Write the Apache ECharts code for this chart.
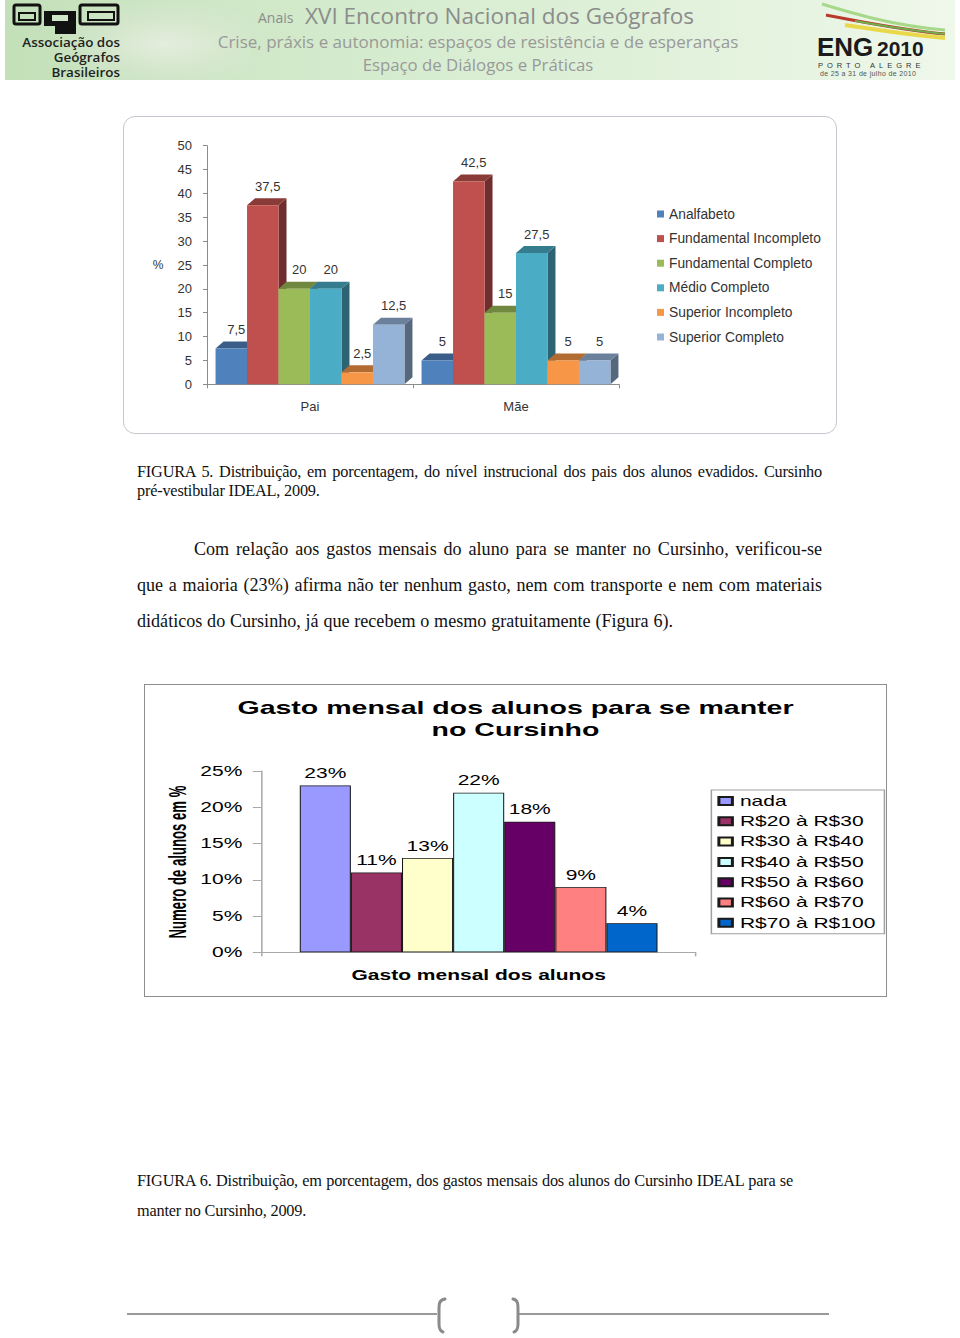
<!DOCTYPE html>
<html>
<head>
<meta charset="utf-8">
<script src="https://cdn.jsdelivr.net/npm/echarts/dist/echarts.min.js"></script>
<style>
html,body{margin:0;padding:0;background:#fff;}
body{width:960px;height:1338px;position:relative;overflow:hidden;font-family:"Liberation Serif","Times New Roman",serif;color:#111;}
.ln{position:absolute;white-space:nowrap;height:22px;line-height:22px;}
.j{text-align:justify;text-align-last:justify;}
.cap{font-size:16.3px;letter-spacing:-0.2px;}
.par{font-size:18.1px;}
.ban{position:absolute;white-space:nowrap;font-family:"Open Sans",sans-serif;line-height:20px;height:20px;}
.eng{position:absolute;white-space:nowrap;font-family:"Liberation Sans",Arial,sans-serif;}
</style>
</head>
<body>

<!-- header banner -->
<div style="position:absolute;left:5px;top:0;width:950px;height:80px;background:linear-gradient(90deg,#c3e0b9 0%,#cfe7c6 22%,#d9eed3 50%,#e3f2dd 75%,#eff8eb 100%);"></div>
<div style="position:absolute;left:60px;top:0;width:190px;height:80px;background:radial-gradient(ellipse at 55% 55%,rgba(235,240,230,0.75) 0%,rgba(220,232,214,0.45) 45%,rgba(200,225,192,0) 75%);"></div>
<svg style="position:absolute;left:0;top:0" width="960" height="80">
  <g fill="none" stroke="#111" stroke-width="3">
    <rect x="14" y="5" width="26" height="19" rx="2"/>
    <rect x="19" y="13" width="16" height="7" stroke-width="2"/>
    <rect x="80" y="5" width="38" height="19" rx="2"/>
    <rect x="88" y="12" width="26" height="8" stroke-width="2"/>
  </g>
  <rect x="44" y="11" width="32" height="15" fill="#111"/>
  <rect x="55" y="25" width="21" height="9" fill="#111"/>
  <rect x="52" y="15" width="16" height="6" fill="#cfe7c6"/>
  <path d="M822 4 C855 14 895 26 945 30" stroke="#a8d88a" stroke-width="3" fill="none"/>
  <path d="M826 15 C862 22 902 30 945 34" stroke="#b83a2a" stroke-width="3" fill="none"/>
  <path d="M845 25 C878 30 912 35 945 38" stroke="#e8d84a" stroke-width="4" fill="none"/>
  <path d="M855 21 C884 26 916 31 945 34" stroke="#6fae4c" stroke-width="2" fill="none"/>
</svg>
<div style="position:absolute;left:10px;top:34.5px;width:110px;text-align:right;white-space:nowrap;font-family:'Open Sans',sans-serif;font-size:12px;font-weight:600;color:#222;line-height:15px;transform:scaleX(1.12);transform-origin:100% 0;">Associação dos<br>Geógrafos<br>Brasileiros</div>
<div class="ban" style="left:258px;top:8px;font-size:14px;color:#8c8c8c;">Anais</div>
<div class="ban" style="left:305px;top:2px;font-size:22.5px;color:#8c8c8c;height:28px;line-height:28px;">XVI Encontro Nacional dos Geógrafos</div>
<div class="ban" style="left:178px;top:31px;width:600px;text-align:center;font-size:17px;color:#999;height:22px;line-height:22px;">Crise, práxis e autonomia: espaços de resistência e de esperanças</div>
<div class="ban" style="left:278px;top:54px;width:400px;text-align:center;font-size:16.8px;color:#999;height:22px;line-height:22px;">Espaço de Diálogos e Práticas</div>
<div class="eng" style="left:817px;top:32.5px;font-size:26px;line-height:29px;height:29px;font-weight:700;color:#1b1b1b;">ENG</div>
<div class="eng" style="left:877px;top:37px;font-size:21px;line-height:23.4px;height:23.4px;font-weight:700;color:#1b1b1b;">2010</div>
<div class="eng" style="left:818px;top:61.8px;font-size:7.5px;line-height:8.3px;height:8.3px;letter-spacing:4px;color:#333;">PORTO ALEGRE</div>
<div class="eng" style="left:820px;top:70.3px;font-size:7px;line-height:7.8px;height:7.8px;letter-spacing:0.35px;color:#555;">de 25 a 31 de julho de 2010</div>

<!-- Figure 5 -->
<div style="position:absolute;left:123px;top:116px;width:714px;height:318px;border:1.5px solid #c6c6ce;border-radius:12px;box-sizing:border-box;"></div>
<div id="c1" style="position:absolute;left:123px;top:116px;width:714px;height:318px;"></div>

<div class="ln cap j" style="left:137px;top:461px;width:685px;">FIGURA 5. Distribuição, em porcentagem, do nível instrucional dos pais dos alunos evadidos. Cursinho</div>
<div class="ln cap" style="left:137px;top:480px;">pré-vestibular IDEAL, 2009.</div>

<div class="ln par j" style="left:194px;top:538px;width:628px;">Com relação aos gastos mensais do aluno para se manter no Cursinho, verificou-se</div>
<div class="ln par j" style="left:137px;top:574px;width:685px;">que a maioria (23%) afirma não ter nenhum gasto, nem com transporte e nem com materiais</div>
<div class="ln par j" style="left:137px;top:610px;width:536px;">didáticos do Cursinho, já que recebem o mesmo gratuitamente (Figura 6).</div>

<!-- Figure 6 -->
<div style="position:absolute;left:144px;top:684px;width:743px;height:313px;border:1.5px solid #8e8e8e;box-sizing:border-box;"></div>
<div id="c2" style="position:absolute;left:144px;top:684px;width:495px;height:313px;transform:scaleX(1.501);transform-origin:0 0;"></div>

<div class="ln cap j" style="left:137px;top:1170px;width:656px;">FIGURA 6. Distribuição, em porcentagem, dos gastos mensais dos alunos do Cursinho IDEAL para se</div>
<div class="ln cap" style="left:137px;top:1200px;">manter no Cursinho, 2009.</div>

<!-- footer -->
<svg style="position:absolute;left:0;top:1290px" width="960" height="48">
  <line x1="127" y1="24" x2="437" y2="24" stroke="#9a9a9a" stroke-width="2"/>
  <line x1="519" y1="24" x2="829" y2="24" stroke="#9a9a9a" stroke-width="2"/>
  <path d="M445 9 C439 10 439 14 439 20 L439 34 C439 39 440 41 443 42" stroke="#8a8a8a" stroke-width="3" fill="none" stroke-linecap="round"/>
  <path d="M513 9 C518 10 518 14 518 20 L518 34 C518 39 517 41 514 42" stroke="#8a8a8a" stroke-width="3" fill="none" stroke-linecap="round"/>
</svg>

<script>
// ---------- Figure 5 data ----------
const parentGroups = ['Pai', 'Mãe'];
const levelNames = ['Analfabeto', 'Fundamental Incompleto', 'Fundamental Completo', 'Médio Completo', 'Superior Incompleto', 'Superior Completo'];
const analfabeto = [7.5, 5];
const fundIncompleto = [37.5, 42.5];
const fundCompleto = [20, 15];
const medioCompleto = [20, 27.5];
const supIncompleto = [2.5, 5];
const supCompleto = [12.5, 5];
const pctMin = 0, pctMax = 50, pctStep = 5;

// ---------- Figure 6 data ----------
const expenseNames = ['nada', 'R$20 à R$30', 'R$30 à R$40', 'R$40 à R$50', 'R$50 à R$60', 'R$60 à R$70', 'R$70 à R$100'];
const expenseValues = [23, 11, 13, 22, 18, 9, 4];
const expMin = 0, expMax = 25, expStep = 5;

// ---------- styles ----------
const levelSeries = [analfabeto, fundIncompleto, fundCompleto, medioCompleto, supIncompleto, supCompleto];
const levelColors = ['#4F81BD', '#C0504D', '#9BBB59', '#4BACC6', '#F79646', '#95B3D7'];
const expenseColors = ['#9999FF', '#993366', '#FFFFCC', '#CCFFFF', '#660066', '#FF8080', '#0066CC'];
const SANS = '"Liberation Sans", Arial, sans-serif';

function shade(hex, k) {
  const n = parseInt(hex.slice(1), 16);
  const r = Math.round(((n >> 16) & 255) * k), g = Math.round(((n >> 8) & 255) * k), b = Math.round((n & 255) * k);
  return 'rgb(' + r + ',' + g + ',' + b + ')';
}

// ---------- Chart 1 (3D-like grouped bars) ----------
const chart1 = echarts.init(document.getElementById('c1'), null, { renderer: 'svg', width: 714, height: 318 });
const GROUP_FRAC = 0.917, DX = 8, DY = 7;
const N1 = levelNames.length;
const series1 = levelNames.map((name, i) => ({
  type: 'custom',
  name: name,
  coordinateSystem: 'cartesian2d',
  itemStyle: { color: levelColors[i] },
  encode: { x: 0, y: 1 },
  data: levelSeries[i].map((v, j) => [j, v]),
  renderItem: function (params, api) {
    const cat = api.value(0), v = api.value(1);
    const top = api.coord([cat, v]);
    const base = api.coord([cat, 0]);
    const band = api.size([1, 0])[0];
    const gw = band * GROUP_FRAC, w = gw / N1;
    const x0 = top[0] - gw / 2 + i * w, x1 = x0 + w;
    const yt = top[1], yb = base[1];
    const c = levelColors[i];
    return {
      type: 'group',
      children: [
        { type: 'polygon', shape: { points: [[x1, yt], [x1 + DX, yt - DY], [x1 + DX, yb - DY], [x1, yb]] }, style: { fill: shade(c, 0.58) } },
        { type: 'polygon', shape: { points: [[x0, yt], [x0 + DX, yt - DY], [x1 + DX, yt - DY], [x1, yt]] }, style: { fill: shade(c, 0.72) } },
        { type: 'rect', shape: { x: x0, y: yt, width: w, height: yb - yt }, style: { fill: c } },
        { type: 'text', x: (x0 + x1) / 2 + 5, y: yt - 19, z2: 100,
          style: { text: String(v).replace('.', ','), fill: '#333', font: '13px ' + SANS, align: 'center', verticalAlign: 'middle' } }
      ]
    };
  }
}));

chart1.setOption({
  animation: false,
  grid: { left: 84, top: 29.7, width: 412, height: 238.6 },
  legend: {
    orient: 'vertical', left: 534, top: 91, padding: 0,
    itemWidth: 7, itemHeight: 7, itemGap: 10.6, icon: 'rect',
    textStyle: { fontSize: 13.8, color: '#333', fontFamily: SANS, lineHeight: 14 },
    data: levelNames
  },
  xAxis: {
    type: 'category', data: parentGroups,
    axisLine: { lineStyle: { color: '#8c8c8c' } },
    axisTick: { show: true, length: 4, lineStyle: { color: '#8c8c8c' } },
    axisLabel: { fontSize: 13, color: '#333', margin: 16, fontFamily: SANS }
  },
  yAxis: {
    type: 'value', min: pctMin, max: pctMax, interval: pctStep,
    name: '%', nameLocation: 'middle', nameRotate: 0, nameGap: 49,
    nameTextStyle: { fontSize: 12, color: '#333', align: 'center', verticalAlign: 'middle', fontFamily: SANS },
    axisLine: { show: true, lineStyle: { color: '#8c8c8c' } },
    axisTick: { show: true, length: 4, lineStyle: { color: '#8c8c8c' } },
    splitLine: { show: false },
    axisLabel: { fontSize: 13, color: '#333', margin: 15, fontFamily: SANS }
  },
  series: series1
});

// ---------- Chart 2 (flat bars, horizontally stretched like the source) ----------
const chart2 = echarts.init(document.getElementById('c2'), null, { renderer: 'svg', width: 495, height: 313 });
chart2.setOption({
  animation: false,
  title: {
    text: 'Gasto mensal dos alunos para se manter\nno Cursinho',
    left: 'center', top: 12, padding: 0,
    textStyle: { fontSize: 19, fontWeight: 'bold', color: '#000', lineHeight: 22, fontFamily: SANS }
  },
  grid: { left: 78.5, top: 87, width: 288.9, height: 181.3 },
  legend: {
    orient: 'vertical', left: 378, top: 106, padding: [4, 6, 4, 4],
    borderColor: '#a0a0a0', borderWidth: 1,
    itemWidth: 9, itemHeight: 8, itemGap: 6.3, icon: 'rect',
    textStyle: { fontSize: 14, color: '#000', fontFamily: SANS, lineHeight: 14 },
    data: expenseNames
  },
  xAxis: {
    type: 'category', data: [''],
    name: 'Gasto mensal dos alunos', nameLocation: 'middle', nameGap: 16,
    nameTextStyle: { fontSize: 14, fontWeight: 'bold', color: '#000', fontFamily: SANS },
    axisLine: { lineStyle: { color: '#a8a8a8' } },
    axisTick: { show: true, length: 4, lineStyle: { color: '#a8a8a8' } },
    axisLabel: { show: false }
  },
  yAxis: {
    type: 'value', min: expMin, max: expMax, interval: expStep,
    axisLine: { show: true, lineStyle: { color: '#a8a8a8' } },
    axisTick: { show: true, length: 6, lineStyle: { color: '#a8a8a8' } },
    splitLine: { show: false },
    axisLabel: { formatter: '{value}%', fontSize: 14, color: '#000', margin: 13, fontFamily: SANS }
  },
  graphic: [{
    type: 'text', x: 22, y: 178, rotation: Math.PI / 2, scaleX: 0.823,
    style: { text: 'Numero de alunos em %', font: 'bold 16px ' + SANS, fill: '#000', align: 'center', verticalAlign: 'middle' }
  }],
  series: expenseNames.map((name, i) => ({
    type: 'bar', name: name, data: [expenseValues[i]],
    barGap: '0%', barCategoryGap: '17.5%',
    itemStyle: { color: expenseColors[i], borderColor: '#1a1a1a', borderWidth: 0.7 },
    label: { show: true, position: 'top', distance: 5, formatter: '{c}%', fontSize: 14, color: '#000', fontFamily: SANS }
  }))
});
</script>
</body>
</html>
